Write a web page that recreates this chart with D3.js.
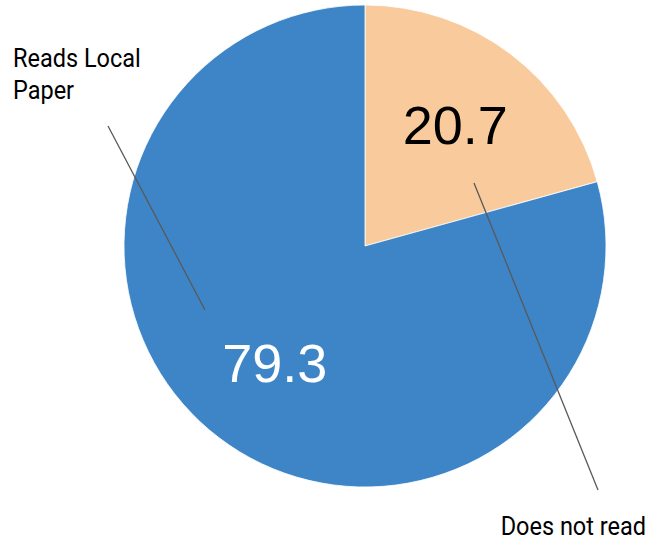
<!DOCTYPE html>
<html>
<head>
<meta charset="utf-8">
<script src="https://cdn.jsdelivr.net/npm/d3@7"></script>
<style>
  html, body { margin: 0; padding: 0; background: #fff; }
  svg { display: block; }
</style>
</head>
<body>
<svg id="chart" width="650" height="540"></svg>
<script>
// Share of respondents who read the local paper
const categories = ["Does not read", "Reads Local Paper"];
const values = [20.7, 79.3];
const colors = ["#f9cb9c", "#3d85c6"];
const valueColors = ["#000000", "#ffffff"];

const width = 650, height = 540;
const cx = 365, cy = 246, radius = 241;

const svg = d3.select("#chart");
const g = svg.append("g").attr("transform", `translate(${cx},${cy})`);

const pie = d3.pie().sort(null).value(d => d.value);
const data = pie(categories.map((c, i) => ({ name: c, value: values[i], i })));

const arc = d3.arc().innerRadius(0).outerRadius(radius);
const labelArc = d3.arc().innerRadius(149).outerRadius(149);

g.selectAll("path.slice")
  .data(data)
  .join("path")
  .attr("class", "slice")
  .attr("d", arc)
  .attr("fill", d => colors[d.data.i])
  .attr("stroke", "#ffffff")
  .attr("stroke-width", 0.8);

// Value labels inside the slices
g.selectAll("text.value")
  .data(data)
  .join("text")
  .attr("class", "value")
  .attr("x", d => labelArc.centroid(d)[0])
  .attr("y", d => labelArc.centroid(d)[1] + 17)
  .attr("text-anchor", "middle")
  .attr("font-family", "'Liberation Sans', Arial, sans-serif")
  .attr("font-size", 54)
  .attr("fill", d => valueColors[d.data.i])
  .text(d => d.data.value.toFixed(1));

// Leader lines from the category labels into their slices
const leaders = [
  { i: 0, from: [598, 490], to: [474, 183] },
  { i: 1, from: [108, 126], to: [205, 310] }
];
svg.selectAll("line.leader")
  .data(leaders)
  .join("line")
  .attr("class", "leader")
  .attr("x1", d => d.from[0]).attr("y1", d => d.from[1])
  .attr("x2", d => d.to[0]).attr("y2", d => d.to[1])
  .attr("stroke", "#595959")
  .attr("stroke-width", 1.3);

// Category labels, slightly narrowed to a condensed look
const catFont = "Roboto, sans-serif";
const left = svg.append("g").attr("transform", "translate(13,67) scale(0.94,1)");
left.append("text")
  .attr("font-family", catFont).attr("font-size", 25).attr("fill", "#000")
  .selectAll("tspan")
  .data(["Reads Local", "Paper"])
  .join("tspan")
  .attr("x", 0)
  .attr("dy", (d, k) => k === 0 ? 0 : 32)
  .text(d => d);

const right = svg.append("g").attr("transform", "translate(646,535) scale(0.94,1)");
right.append("text")
  .attr("text-anchor", "end")
  .attr("font-family", catFont).attr("font-size", 25).attr("fill", "#000")
  .text(categories[0]);
</script>
</body>
</html>
